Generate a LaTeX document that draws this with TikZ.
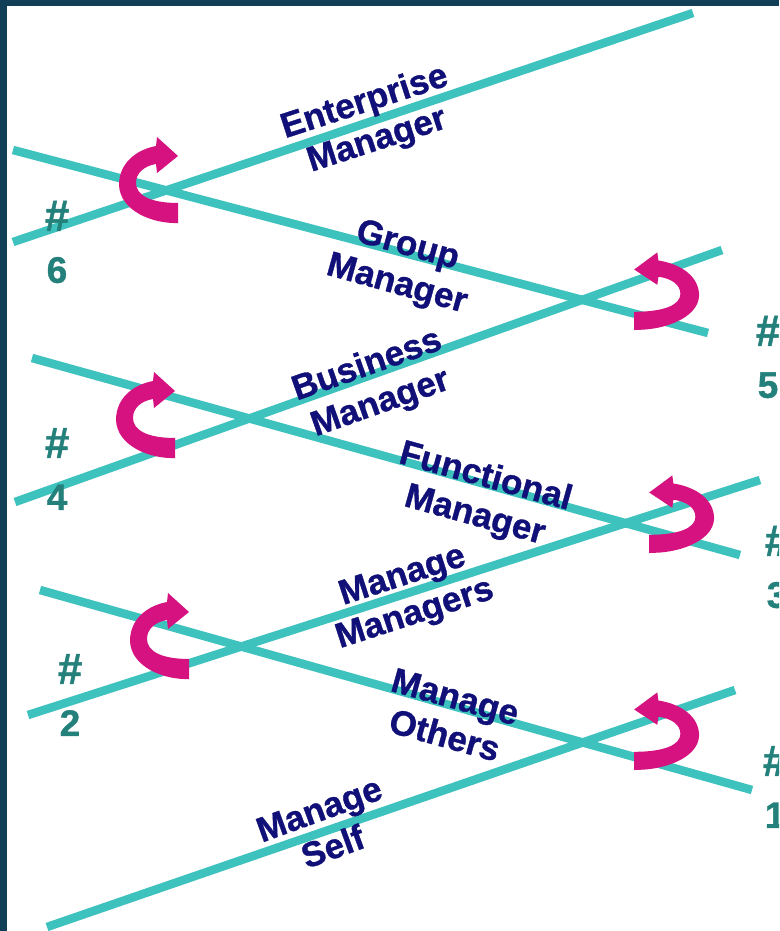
\documentclass[tikz,border=0pt]{standalone}
\usepackage{fontspec}
\setmainfont{Liberation Sans}[BoldFeatures={FakeBold=1}]
\definecolor{framecol}{RGB}{18,63,88}
\definecolor{rungcol}{RGB}{62,194,190}
\definecolor{turncol}{RGB}{214,18,128}
\definecolor{rolecol}{RGB}{16,16,120}
\definecolor{hashcol}{RGB}{36,128,122}
\newcommand{\bighash}{{\fontsize{44}{52}\selectfont\#}}
\tikzset{
  rung/.style={draw=rungcol, line width=8.5pt},
  turn/.style={fill=turncol},
  role/.style={text=rolecol, font=\bfseries\fontsize{35}{40}\selectfont, align=center, inner sep=0pt},
  level/.style={text=hashcol, font=\bfseries\fontsize{37}{52}\selectfont, align=center, inner sep=0pt},
  % curved block arrow turning round a crossing
  turnleft/.pic={
    \fill[turn] (28,42) .. controls (3,43) and (-30,30) .. (-31,4)
      .. controls (-31,-17) and (-15,-31) .. (6,-35)
      -- (7,-44) -- (28,-25) -- (7,-8) -- (6,-17)
      .. controls (-6,-15) and (-14,-8) .. (-14,2)
      .. controls (-14,14) and (0,22) .. (28,22) -- cycle;
  }
}
\begin{document}
\begin{tikzpicture}[x=1pt,y=-1pt]
\useasboundingbox (0,0) rectangle (779,931);
\clip (0,0) rectangle (779,931);
\fill[framecol] (0,0) rectangle (779,931);
\fill[white] (7,6) rectangle (779,931);

% end points of the seven career lines
\coordinate (a1) at (47,927);  \coordinate (b1) at (735,690);
\coordinate (a2) at (40,590);  \coordinate (b2) at (752,790);
\coordinate (a3) at (28,715);  \coordinate (b3) at (760,480);
\coordinate (a4) at (32,358);  \coordinate (b4) at (740,555);
\coordinate (a5) at (15,502);  \coordinate (b5) at (722,250);
\coordinate (a6) at (13,150);  \coordinate (b6) at (708,333);
\coordinate (a7) at (13,242);  \coordinate (b7) at (693,13);

\draw[rung] (a1) -- (b1);
\draw[rung] (a2) -- (b2);
\draw[rung] (a3) -- (b3);
\draw[rung] (a4) -- (b4);
\draw[rung] (a5) -- (b5);
\draw[rung] (a6) -- (b6);
\draw[rung] (a7) -- (b7);

% turns at the crossings
\pic at (150,181) {turnleft};
\pic at (147,416) {turnleft};
\pic at (161,637) {turnleft};
\pic[xscale=-1.1,yscale=0.9] at (665,292) {turnleft};
\pic[xscale=-1.1,yscale=0.9] at (680,515) {turnleft};
\pic[xscale=-1.1,yscale=0.9] at (665,732) {turnleft};

% role names
\node[role, rotate=18]    (em) at (371,122) {Enterprise\\Manager};
\node[role, rotate=-15.5] (gm) at (402,266) {Group\\Manager};
\node[role, rotate=19.5]  (bm) at (374,385) {Business\\Manager};
\node[role, rotate=-15.5] (fm) at (480,497) {Functional\\Manager};
\node[role, rotate=18]    (mm) at (409,596) {Manage\\Managers};
\node[role, rotate=-15.5] (mo) at (450,716) {Manage\\Others};
\node[role, rotate=20]    (ms) at (326,828) {Manage\\Self};

% passage numbers
\node[level] (p6) at (57,242) {\bighash\\6};
\node[level] (p5) at (768,357) {\bighash\\5};
\node[level] (p4) at (57,469) {\bighash\\4};
\node[level] (p3) at (777,567) {\bighash\\3};
\node[level] (p2) at (70,695) {\bighash\\2};
\node[level] (p1) at (775,787) {\bighash\\1};
\end{tikzpicture}
\end{document}
